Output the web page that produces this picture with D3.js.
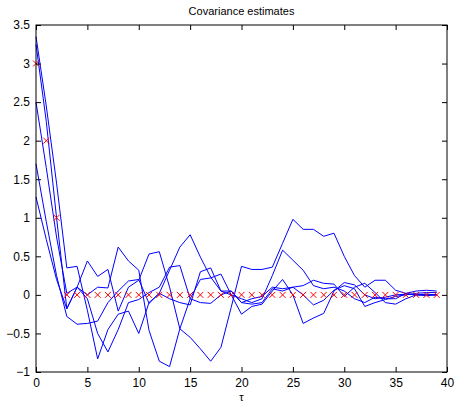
<!DOCTYPE html>
<html>
<head>
<meta charset="utf-8">
<script src="https://cdn.jsdelivr.net/npm/d3@7.9.0/dist/d3.min.js"></script>
<style>
  body { margin: 0; background: #fff; }
  svg text { font-family: "Liberation Sans", Arial, sans-serif; }
</style>
</head>
<body>
<svg id="chart" width="455" height="402"></svg>
<script>
// lags 0..39
const lags = d3.range(0, 40);

// true covariance (red x markers)
const trueCov = [3, 2, 1, 0, 0, 0, 0, 0, 0, 0, 0, 0, 0, 0, 0, 0, 0, 0, 0, 0,
  0, 0, 0, 0, 0, 0, 0, 0, 0, 0, 0, 0, 0, 0, 0, 0, 0, 0, 0, 0];

// five estimates (blue lines)
const est1 = [3.35, 2.45, 1.45, 0.35, 0.37, -0.2, -0.83, -0.45, -0.25, -0.21,
  -0.5, -0.1, 0.02, 0.32, 0.62, 0.78, 0.49, 0.23, 0.05, 0.05,
  -0.1, -0.12, -0.1, 0.08, 0.05, 0.1, 0.0, -0.13, -0.07, 0.06,
  0.12, 0.08, -0.15, -0.1, -0.06, -0.02, 0.0, 0.02, 0.03, 0.03];
const est2 = [3.25, 2.25, 1.0, -0.18, 0.1, 0.44, 0.24, 0.33, -0.21, 0.1,
  0.19, 0.53, 0.56, 0.1, -0.44, -0.55, -0.7, -0.86, -0.68, -0.16,
  0.37, 0.33, 0.33, 0.36, 0.67, 0.98, 0.85, 0.85, 0.76, 0.8,
  0.5, 0.25, 0.1, 0.19, 0.19, 0.06, 0.02, 0.0, 0.01, 0.0];
const est3 = [2.5, 1.65, 0.75, 0.02, 0.1, -0.05, -0.5, -0.74, -0.45, -0.1,
  -0.06, 0.03, 0.1, 0.36, 0.38, -0.05, -0.1, -0.11, 0.0, 0.05,
  -0.1, -0.05, -0.02, 0.1, 0.08, 0.1, 0.12, 0.19, 0.15, 0.14,
  -0.02, 0.1, 0.15, 0.03, -0.1, -0.12, -0.05, 0.0, -0.01, 0.0];
const est4 = [1.7, 0.95, 0.25, -0.28, -0.38, -0.37, -0.34, -0.1, 0.05, 0.18,
  0.2, -0.11, 0.02, -0.05, -0.1, -0.13, 0.3, 0.35, 0.05, 0.0,
  -0.05, -0.1, -0.05, 0.25, 0.58, 0.45, 0.32, 0.12, 0.08, 0.1,
  0.05, -0.05, -0.1, -0.03, -0.05, -0.05, 0.02, 0.05, 0.06, 0.05];
const est5 = [1.27, 0.72, 0.2, -0.18, 0.1, 0.0, 0.1, 0.09, 0.62, 0.44,
  0.32, -0.46, -0.86, -0.93, -0.44, -0.05, 0.2, 0.22, 0.27, 0.0,
  -0.25, -0.15, -0.12, 0.05, 0.2, 0.0, -0.37, -0.3, -0.24, 0.05,
  0.16, 0.13, 0.0, -0.05, -0.03, 0.0, 0.01, 0.0, 0.0, 0.0];
const estimates = [est1, est2, est3, est4, est5];

const xTicks = [0, 5, 10, 15, 20, 25, 30, 35, 40];
const yTicks = [-1, -0.5, 0, 0.5, 1, 1.5, 2, 2.5, 3, 3.5];

const margin = { top: 25, right: 8, bottom: 30, left: 36 };
const width = 455, height = 402;

const svg = d3.select("#chart");

const x = d3.scaleLinear().domain([0, 40]).range([margin.left, width - margin.right]);
const y = d3.scaleLinear().domain([-1, 3.5]).range([height - margin.bottom, margin.top]);

const fmt = (d) => (d < 0 ? "\u2212" + Math.abs(d) : String(d));

// lines
const line = d3.line().x((d, i) => x(lags[i])).y((d) => y(d));
svg.append("g")
  .selectAll("path")
  .data(estimates)
  .join("path")
  .attr("d", line)
  .attr("fill", "none")
  .attr("stroke", "#0000ff")
  .attr("stroke-width", 1);

// red x markers
const s = 3;
svg.append("g")
  .selectAll("path")
  .data(trueCov)
  .join("path")
  .attr("d", (d, i) => {
    const cx = x(lags[i]), cy = y(d);
    return `M${cx - s},${cy - s}L${cx + s},${cy + s}M${cx - s},${cy + s}L${cx + s},${cy - s}`;
  })
  .attr("stroke", "#ff0000")
  .attr("stroke-width", 1);

// axes, ticks inward (matlab style)
const tickLen = 5;
svg.append("g")
  .attr("transform", `translate(0,${y(-1)})`)
  .call(d3.axisBottom(x).tickValues(xTicks).tickSize(-tickLen).tickPadding(6).tickFormat(fmt))
  .call((g) => g.select(".domain").remove());
svg.append("g")
  .attr("transform", `translate(0,${y(3.5)})`)
  .call(d3.axisTop(x).tickValues(xTicks).tickSize(-tickLen).tickFormat(""))
  .call((g) => g.select(".domain").remove());
svg.append("g")
  .attr("transform", `translate(${x(0)},0)`)
  .call(d3.axisLeft(y).tickValues(yTicks).tickSize(-tickLen).tickPadding(6).tickFormat(fmt))
  .call((g) => g.select(".domain").remove());
svg.append("g")
  .attr("transform", `translate(${x(40)},0)`)
  .call(d3.axisRight(y).tickValues(yTicks).tickSize(-tickLen).tickFormat(""))
  .call((g) => g.select(".domain").remove());

svg.selectAll(".tick text").attr("font-size", 12).attr("fill", "#000");
svg.selectAll(".tick line").attr("stroke", "#000");

svg.append("rect")
  .attr("x", x(0))
  .attr("y", y(3.5))
  .attr("width", x(40) - x(0))
  .attr("height", y(-1) - y(3.5))
  .attr("fill", "none")
  .attr("stroke", "#000")
  .attr("stroke-width", 1);

svg.append("text")
  .attr("x", (x(0) + x(40)) / 2)
  .attr("y", 15)
  .attr("text-anchor", "middle")
  .attr("font-size", 11)
  .text("Covariance estimates");

svg.append("text")
  .attr("x", (x(0) + x(40)) / 2)
  .attr("y", 401)
  .attr("text-anchor", "middle")
  .attr("font-size", 11)
  .text("\u03c4");
</script>
</body>
</html>
